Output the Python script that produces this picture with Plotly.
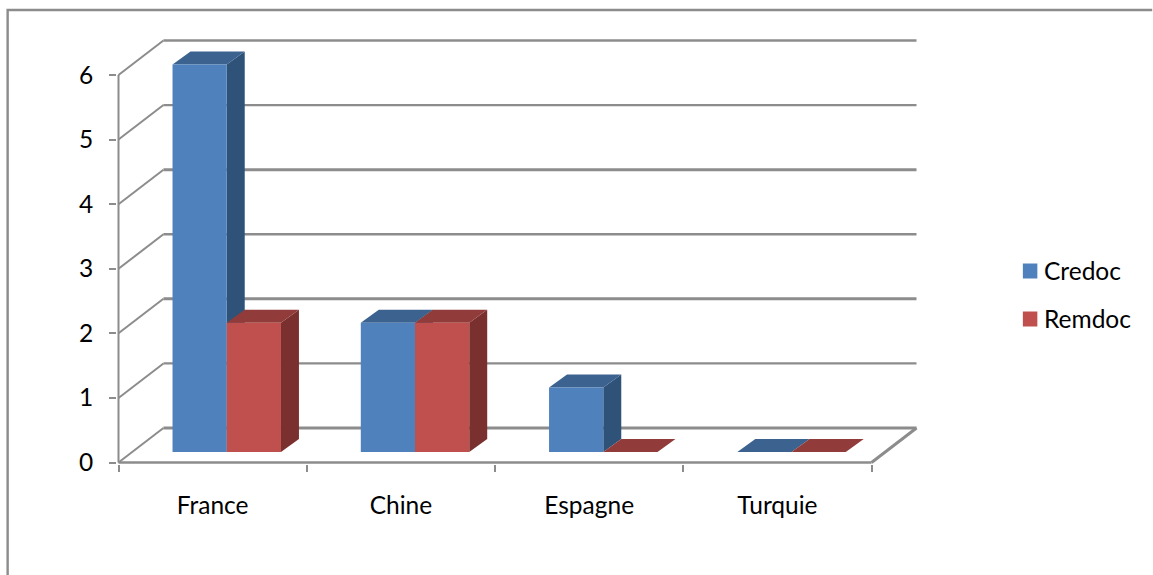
import plotly.graph_objects as go

categories = ["France", "Chine", "Espagne", "Turquie"]
credoc = [6, 2, 1, 0]
remdoc = [2, 2, 0, 0]
levels = [0, 1, 2, 3, 4, 5, 6]
heavy_levels = [0, 2, 4]

# Canvas and front plane of the plot, in pixels
WIDTH, HEIGHT = 1153, 575
LEFT, RIGHT, TOP, BOTTOM = 118, 872, 75, 462.5
PX_X = (RIGHT - LEFT) / len(categories)
PX_Y = (BOTTOM - TOP) / 6

# Oblique projection: back wall offset and bar depth, in axis units
WALL_DX, WALL_DY = 45 / PX_X, 34.5 / PX_Y
BAR_DX, BAR_DY = 18 / PX_X, 13 / PX_Y
BAR_BASE = 10.5 / PX_Y
BAR_OFFSET, BAR_WIDTH = 0.287, 0.288

# The axes box is a little larger than the drawing so edge lines are not clipped
PAD = 1.5
GRAY = "#8c8c8c"
FONT = "Lato"
FONT_SIZE = 24.5
BLUE = ("#4F81BD", "#2F5279", "#3C638F")
RED = ("#C0504D", "#7A302E", "#913C3A")

n = len(categories)
box_left = LEFT - PAD
box_right = RIGHT + 45 + PAD
box_top = TOP - 34.5 - PAD
box_bottom = BOTTOM + PAD


def paper_x(px):
    return (px - box_left) / (box_right - box_left)


def paper_y(px):
    return (box_bottom - px) / (box_bottom - box_top)


def polygons(shapes):
    xs, ys = [], []
    for shape in shapes:
        xs += [p[0] for p in shape] + [shape[0][0], None]
        ys += [p[1] for p in shape] + [shape[0][1], None]
    return xs, ys


def face_trace(shapes, color):
    xs, ys = polygons(shapes)
    return go.Scatter(
        x=xs, y=ys, mode="lines", fill="toself", fillcolor=color,
        line=dict(width=0, color=color), hoverinfo="skip", showlegend=False,
    )


def line_trace(xs, ys, width=2):
    return go.Scatter(
        x=xs, y=ys, mode="lines", line=dict(color=GRAY, width=width),
        hoverinfo="skip", showlegend=False,
    )


def series_faces(values, slot, colors):
    front, side, top = colors
    fronts, sides, tops = [], [], []
    for i, v in enumerate(values):
        x0 = i + BAR_OFFSET + slot * BAR_WIDTH
        x1 = x0 + BAR_WIDTH
        y0 = BAR_BASE
        y1 = BAR_BASE + v
        if v > 0:
            fronts.append([(x0, y0), (x1, y0), (x1, y1), (x0, y1)])
            sides.append([(x1, y0), (x1 + BAR_DX, y0 + BAR_DY),
                          (x1 + BAR_DX, y1 + BAR_DY), (x1, y1)])
        tops.append([(x0, y1), (x1, y1), (x1 + BAR_DX, y1 + BAR_DY),
                     (x0 + BAR_DX, y1 + BAR_DY)])
    return [face_trace(sides, side), face_trace(tops, top), face_trace(fronts, front)]


fig = go.Figure()

# Back wall and side wall gridlines, floor edges, front axis lines
for k in levels:
    fig.add_trace(line_trace([WALL_DX, n + WALL_DX], [k + WALL_DY, k + WALL_DY],
                             3 if k in heavy_levels else 2.4))
    fig.add_trace(line_trace([0, WALL_DX], [k, k + WALL_DY], 2))
fig.add_trace(line_trace([n, n + WALL_DX], [0, WALL_DY], 3))
fig.add_trace(line_trace([0, n], [0, 0], 2.4))
fig.add_trace(line_trace([0, 0], [0, levels[-1]], 2))

# Bars, with each series painted over the one before it
for trace in series_faces(credoc, 0, BLUE):
    fig.add_trace(trace)
for trace in series_faces(remdoc, 1, RED):
    fig.add_trace(trace)

# Chart frame and legend
shapes = [dict(
    type="path", xref="paper", yref="paper",
    path=(f"M {paper_x(7)} {paper_y(575)} L {paper_x(7)} {paper_y(10)} "
          f"L {paper_x(1153)} {paper_y(10)}"),
    line=dict(color=GRAY, width=2.4),
)]
annotations = []
for name, color, row in [("Credoc", BLUE[0], 271), ("Remdoc", RED[0], 319)]:
    shapes.append(dict(
        type="rect", xref="paper", yref="paper",
        x0=paper_x(1023.5), x1=paper_x(1038), y0=paper_y(row - 7.5), y1=paper_y(row + 7.5),
        fillcolor=color, line=dict(width=0),
    ))
    annotations.append(dict(
        text=name, xref="paper", yref="paper", showarrow=False,
        x=paper_x(1043), y=paper_y(row - 1), xanchor="left", yanchor="middle",
        font=dict(family=FONT, size=FONT_SIZE, color="#000000"),
    ))

fig.update_layout(
    width=WIDTH, height=HEIGHT, autosize=False, showlegend=False,
    margin=dict(l=box_left, r=WIDTH - box_right, t=box_top, b=HEIGHT - box_bottom, pad=0),
    paper_bgcolor="white", plot_bgcolor="rgba(0,0,0,0)",
    font=dict(family=FONT, size=FONT_SIZE, color="#000000"),
    xaxis=dict(
        range=[-PAD / PX_X, n + WALL_DX + PAD / PX_X],
        showgrid=False, zeroline=False, showline=False,
        tickmode="array", tickvals=[i + 0.5 for i in range(n)],
        ticktext=categories, ticks="", ticklabelstandoff=24,
        minor=dict(tickmode="array", tickvals=list(range(n + 1)),
                   ticks="outside", ticklen=7, tickwidth=2, tickcolor=GRAY,
                   showgrid=False),
    ),
    yaxis=dict(
        range=[-PAD / PX_Y, levels[-1] + WALL_DY + PAD / PX_Y],
        showgrid=False, zeroline=False, showline=False,
        tickmode="array", tickvals=levels, ticks="outside",
        ticklen=7, tickwidth=2.4, tickcolor=GRAY, ticklabelstandoff=11,
    ),
    shapes=shapes,
    annotations=annotations,
)

fig.write_html("out.html")
